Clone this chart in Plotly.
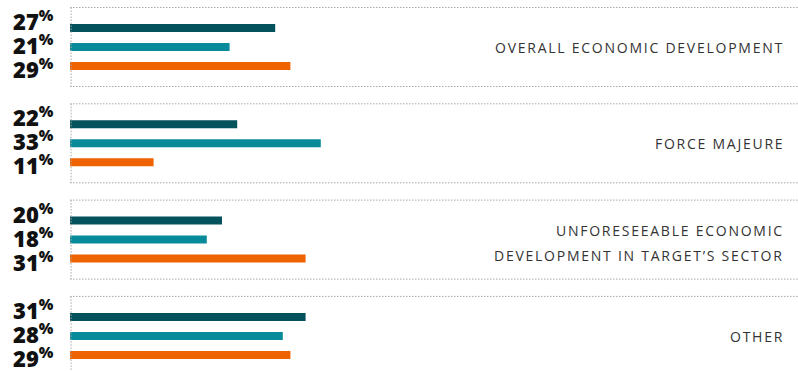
import plotly.graph_objects as go

# Survey shares per reason, three respondent groups per category
categories = [
    "OVERALL ECONOMIC DEVELOPMENT",
    "FORCE MAJEURE",
    "UNFORESEEABLE ECONOMIC<br>DEVELOPMENT IN TARGET’S SECTOR",
    "OTHER",
]
series_a = [27, 22, 20, 31]
series_b = [21, 33, 18, 28]
series_c = [29, 11, 31, 29]

colors = ["#03525c", "#078b9b", "#ee6200"]

W, H = 798, 371
LEFT = 70
PX_PER_GROUP = 96.3
BAR_STEP = 19 / PX_PER_GROUP       # distance between bars within a group
BAR_W = 8 / PX_PER_GROUP
BOX_HALF = 39.5 / PX_PER_GROUP
PX_PER_PCT = 7.6
x_max = (W - LEFT) / PX_PER_PCT
y_top = -47 / PX_PER_GROUP
y_bot = y_top + H / PX_PER_GROUP

fig = go.Figure()
group_pos = list(range(len(categories)))
for k, (vals, col) in enumerate(zip([series_a, series_b, series_c], colors)):
    fig.add_trace(go.Bar(
        x=vals,
        y=[g + (k - 1) * BAR_STEP for g in group_pos],
        orientation="h",
        width=BAR_W,
        marker=dict(color=col, line=dict(width=0)),
        hoverinfo="skip",
    ))

dot = dict(color="#a8a8a8", width=1, dash="1.5px,1.5px")
shapes = []
annotations = []
label_offsets = [-26.5, -2.5, 21.5]
label_x = (11 - LEFT) / (W - LEFT)
cat_x = (786 - LEFT) / (W - LEFT)
for g, cat in zip(group_pos, categories):
    top, bot = g - BOX_HALF, g + BOX_HALF
    shapes.append(dict(type="line", xref="paper", yref="y", x0=0, x1=1, y0=top, y1=top, line=dot))
    shapes.append(dict(type="line", xref="paper", yref="y", x0=0, x1=1, y0=bot, y1=bot, line=dot))
    shapes.append(dict(type="line", xref="paper", yref="y", x0=0.0015, x1=0.0015, y0=top, y1=bot, line=dot))

    for k, vals in enumerate([series_a, series_b, series_c]):
        annotations.append(dict(
            xref="paper", yref="y", x=label_x, y=g + label_offsets[k] / PX_PER_GROUP,
            xanchor="left", yanchor="middle", showarrow=False,
            text=f"{vals[g]}<sup>%</sup>",
            font=dict(family="Open Sans", size=22, color="#111111", weight=800),
        ))

    lines = cat.split("<br>")
    line_gap = 25
    for i, line in enumerate(lines):
        off = (i - (len(lines) - 1) / 2) * line_gap + (3 if len(lines) > 1 else 0.5)
        annotations.append(dict(
            xref="paper", yref="y", x=cat_x, y=g + off / PX_PER_GROUP,
            xanchor="right", yanchor="middle", showarrow=False,
            text=f'<span style="letter-spacing:1.75px">{line}</span>',
            font=dict(family="Open Sans", size=14, color="#333333"),
        ))

fig.update_layout(
    width=W, height=H,
    margin=dict(l=LEFT, r=0, t=0, b=0),
    paper_bgcolor="white", plot_bgcolor="white",
    showlegend=False,
    barmode="overlay",
    shapes=shapes,
    annotations=annotations,
    xaxis=dict(range=[0, x_max], visible=False, fixedrange=True),
    yaxis=dict(range=[y_bot, y_top], visible=False, fixedrange=True),
)

fig.write_html("out.html")
